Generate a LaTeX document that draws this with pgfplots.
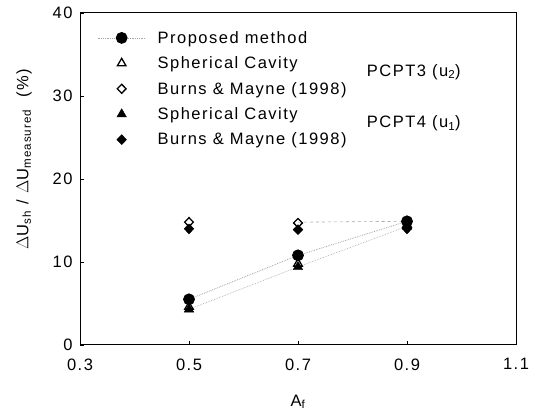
\documentclass[border=0pt]{standalone}
\usepackage{pgfplots}
\pgfplotsset{compat=1.18}
\usepackage{fontspec}
\setmainfont{Liberation Sans}[LetterSpace=9]
\newcommand{\ff}{\fontsize{16.5bp}{19bp}\selectfont}
\pgfplotsset{
  propleg/.style={legend image code/.code={\path[draw=none,fill=none] (0cm,-0.01cm) rectangle (2.05cm,0.01cm); \draw[##1,mark=none] (0cm,0cm) -- (1.7cm,0cm); \draw[##1] plot coordinates {(0.85cm,0cm)};}},
  markleg/.style={legend image code/.code={\path[draw=none,fill=none] (0cm,-0.01cm) rectangle (2.05cm,0.01cm); \draw[##1] plot coordinates {(0.85cm,0cm)};}},
}
\begin{document}
\begin{tikzpicture}[font=\ff]
\begin{axis}[
  scale only axis,
  width=436bp, height=332bp,
  xmin=0.3, xmax=1.1, ymin=0, ymax=40,
  xtick={0.3,0.5,0.7,0.9,1.1},
  ytick={0,10,20,30,40},
  xticklabel style={/pgf/number format/fixed,/pgf/number format/precision=1,/pgf/number format/fixed zerofill, yshift=-10bp},
  yticklabel style={xshift=-4bp},
  ticklabel style={font=\ff},
  label style={font=\ff},
  /pgf/number format/assume math mode=true,
  tick align=inside,
  tick pos=left,
  major tick length=4bp,
  axis line style={line width=1pt},
  tick style={black, line width=0.6pt},
  xlabel={A\textsubscript{f}},
  ylabel={$\Delta$U\textsubscript{sh} / $\Delta$U\textsubscript{measured}\ \ (\%)},
  xlabel style={yshift=-18bp},
  ylabel style={yshift=14bp, xshift=20bp},
  legend style={draw=none, fill=none, at={(axis cs:0.3,40)}, anchor=north west,
     xshift=14bp, yshift=-14bp, row sep=8bp, font=\ff},
  legend cell align=left,
]
% faint connecting lines
\addplot[gray!60, densely dotted, line width=0.7pt, forget plot] coordinates {(0.5,4.3) (0.7,9.4) (0.9,14.3)};
\addplot[gray!70, dashed, line width=0.6pt, forget plot] coordinates {(0.7,14.8) (0.9,14.9)};
% Proposed method
\addplot[gray!70, densely dotted, line width=0.8pt, mark=*, mark size=5.5bp, mark options={black, solid, fill=black}, propleg] coordinates {(0.5,5.5) (0.7,10.8) (0.9,14.9)};
\addlegendentry{Proposed method}
\addplot[only marks, mark=triangle, mark size=5bp, mark options={black, line width=1.3pt}, markleg] coordinates {(0.5,4.6) (0.7,9.8) (0.9,14.5)};
\addlegendentry{Spherical Cavity}
\addplot[only marks, mark=diamond, mark size=4.5bp, mark options={black, line width=1.3pt, xscale=1.3}, markleg] coordinates {(0.5,14.8) (0.7,14.7) (0.9,14.7)};
\addlegendentry{Burns \& Mayne (1998)}
\addplot[only marks, mark=triangle*, mark size=5.5bp, mark options={black, fill=black}, markleg] coordinates {(0.5,4.3) (0.7,9.4) (0.9,14.3)};
\addlegendentry{Spherical Cavity}
\addplot[only marks, mark=diamond*, mark size=5bp, mark options={black, fill=black, xscale=1.3}, markleg] coordinates {(0.5,14.0) (0.7,13.9) (0.9,14.0)};
\addlegendentry{Burns \& Mayne (1998)}
\node[anchor=west, font=\ff] at (axis cs:0.82,32.9) {PCPT3 (u\textsubscript{2})};
\node[anchor=west, font=\ff] at (axis cs:0.82,26.7) {PCPT4 (u\textsubscript{1})};
\end{axis}
\pgfresetboundingbox
\path[use as bounding box] ([shift={(-80bp,-69bp)}]current axis.south west) rectangle ([shift={(21bp,13bp)}]current axis.north east);
\end{tikzpicture}
\end{document}
